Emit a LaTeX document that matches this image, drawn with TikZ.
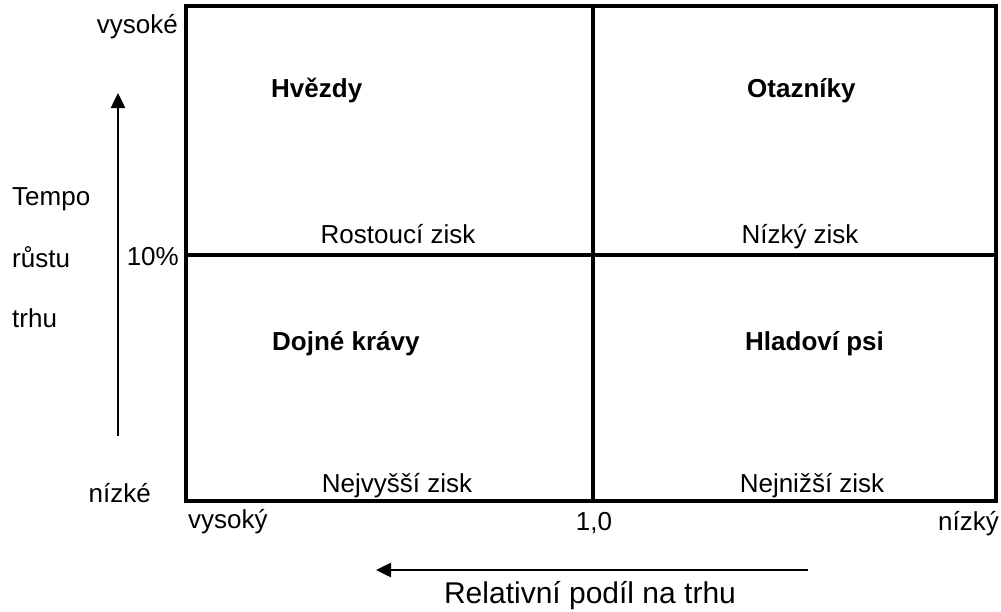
\documentclass[tikz,border=0pt]{standalone}
\usepackage{fontspec}
\setmainfont{Liberation Sans}
\usetikzlibrary{arrows.meta}
\begin{document}
\begin{tikzpicture}[x=1pt,y=-1pt,
  lbl/.style={inner sep=0pt, font=\fontsize{26}{31}\selectfont},
  quad/.style={inner sep=0pt, font=\fontsize{26}{31}\selectfont\bfseries},
  biglbl/.style={inner sep=0pt, font=\fontsize{30}{36}\selectfont},
  frame/.style={line width=3.5pt},
  axisarrow/.style={line width=2.5pt, -{Triangle[length=15pt,width=14pt]}}]
\useasboundingbox (0,0) rectangle (1001,611);

% matrix frame and dividers
\coordinate (tl) at (186,6);
\coordinate (br) at (996,501);
\coordinate (mt) at (593,6);
\coordinate (mb) at (593,501);
\coordinate (ml) at (186,255);
\coordinate (mr) at (996,255);
\draw[frame] (tl) rectangle (br);
\draw[frame] (mt) -- (mb);
\draw[frame] (ml) -- (mr);

% axis arrows
\coordinate (vs) at (118,436);
\coordinate (ve) at (118,93);
\draw[axisarrow] (vs) -- (ve);
\coordinate (hs) at (808,570);
\coordinate (he) at (376,570);
\draw[axisarrow] (hs) -- (he);

% vertical axis labels
\node[lbl, anchor=base east] (yhigh) at (178,33) {vysoké};
\node[lbl, anchor=base west] (ya) at (12,205) {Tempo};
\node[lbl, anchor=base west] (yb) at (12,267) {růstu};
\node[lbl, anchor=base west] (yc) at (12,327) {trhu};
\node[lbl, anchor=base east] (ymid) at (179,265) {10\%};
\node[lbl, anchor=base east] (ylow) at (151,502) {nízké};

% horizontal axis labels
\node[lbl, anchor=base west] (xhigh) at (188,528) {vysoký};
\node[lbl, anchor=base] (xmid) at (594,530) {1,0};
\node[lbl, anchor=base east] (xlow) at (999,530) {nízký};
\node[biglbl, anchor=base] (xtitle) at (590,603) {Relativní podíl na trhu};

% quadrant titles
\node[quad, anchor=base west] (q1) at (271,97) {Hvězdy};
\node[quad, anchor=base west] (q2) at (747,97) {Otazníky};
\node[quad, anchor=base west] (q3) at (272,350) {Dojné krávy};
\node[quad, anchor=base west] (q4) at (745,350) {Hladoví psi};

% quadrant notes
\node[lbl, anchor=base] (n1) at (398,243) {Rostoucí zisk};
\node[lbl, anchor=base] (n2) at (800,243) {Nízký zisk};
\node[lbl, anchor=base] (n3) at (397,492) {Nejvyšší zisk};
\node[lbl, anchor=base] (n4) at (812,492) {Nejnižší zisk};
\end{tikzpicture}
\end{document}
